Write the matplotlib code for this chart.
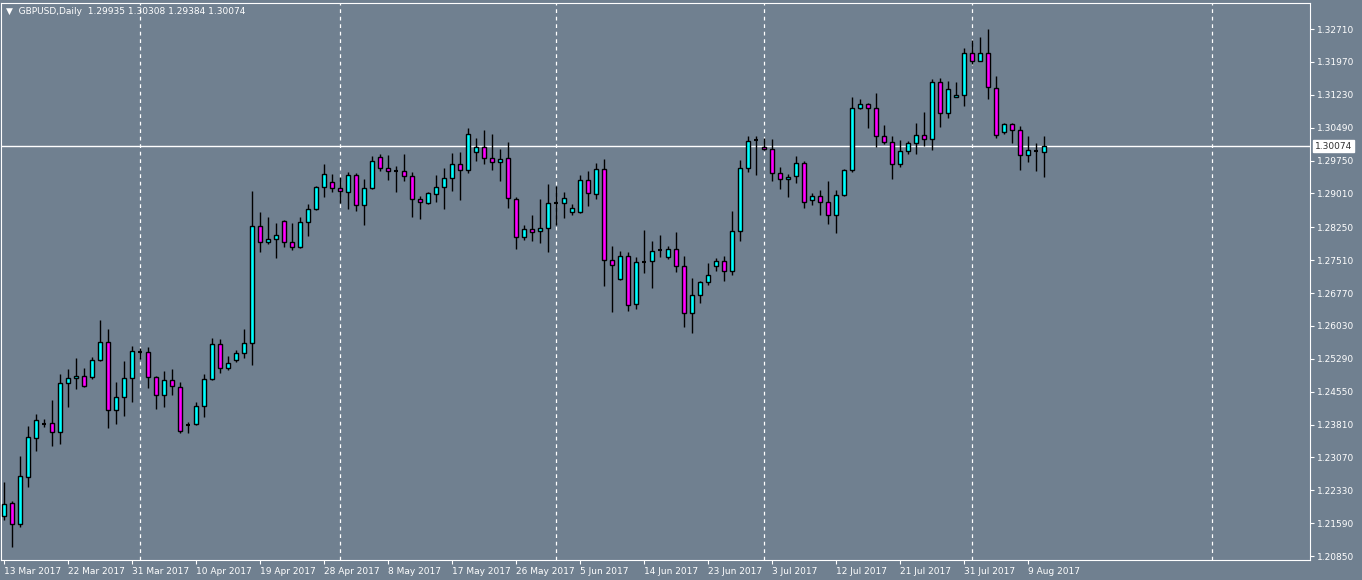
import numpy as np
import matplotlib
matplotlib.use('Agg')
import matplotlib.pyplot as plt

# daily GBPUSD candles, 13 Mar 2017 .. 10 Aug 2017 (MT4 incl. Sunday bars)
opens = [1.2175, 1.2205, 1.2157, 1.2263, 1.2351, 1.2382, 1.2385, 1.2364, 1.2475, 1.2486,
         1.2490, 1.2488, 1.2526, 1.2567, 1.2414, 1.2443, 1.2486, 1.2545, 1.2545, 1.2488,
         1.2448, 1.2481, 1.2466, 1.2380, 1.2382, 1.2423, 1.2484, 1.2562, 1.2508, 1.2526,
         1.2542, 1.2565, 1.2828, 1.2792, 1.2799, 1.2839, 1.2792, 1.2781, 1.2837, 1.2866,
         1.2916, 1.2927, 1.2913, 1.2904, 1.2943, 1.2875, 1.2913, 1.2983, 1.2958, 1.2952,
         1.2952, 1.2940, 1.2889, 1.2880, 1.2900, 1.2916, 1.2936, 1.2967, 1.2954, 1.2994,
         1.3006, 1.2981, 1.2972, 1.2981, 1.2889, 1.2802, 1.2820, 1.2817, 1.2823, 1.2880,
         1.2880, 1.2859, 1.2859, 1.2931, 1.2900, 1.2956, 1.2751, 1.2709, 1.2760, 1.2652,
         1.2747, 1.2749, 1.2774, 1.2758, 1.2776, 1.2738, 1.2632, 1.2673, 1.2702, 1.2738,
         1.2749, 1.2727, 1.2817, 1.2958, 1.3021, 1.3006, 1.3001, 1.2947, 1.2934, 1.2940,
         1.2970, 1.2886, 1.2895, 1.2882, 1.2853, 1.2898, 1.2954, 1.3093, 1.3102, 1.3093,
         1.3030, 1.3017, 1.2967, 1.2997, 1.3015, 1.3033, 1.3024, 1.3152, 1.3082, 1.3118,
         1.3123, 1.3217, 1.3199, 1.3217, 1.3138, 1.3039, 1.3057, 1.3044, 1.2988, 1.2997,
         1.29935]
highs = [1.2252, 1.2209, 1.2310, 1.2378, 1.2405, 1.2394, 1.2436, 1.2495, 1.2506, 1.2531,
         1.2508, 1.2533, 1.2616, 1.2596, 1.2477, 1.2524, 1.2558, 1.2554, 1.2556, 1.2490,
         1.2502, 1.2506, 1.2477, 1.2387, 1.2432, 1.2495, 1.2576, 1.2574, 1.2535, 1.2549,
         1.2596, 1.2907, 1.2859, 1.2848, 1.2835, 1.2841, 1.2835, 1.2848, 1.2877, 1.2918,
         1.2967, 1.2945, 1.2938, 1.2949, 1.2947, 1.2934, 1.2985, 1.2990, 1.2988, 1.2963,
         1.2990, 1.2949, 1.2895, 1.2904, 1.2943, 1.2958, 1.2992, 1.2994, 1.3048, 1.3026,
         1.3044, 1.3035, 1.3001, 1.3017, 1.2893, 1.2829, 1.2853, 1.2889, 1.2922, 1.2918,
         1.2904, 1.2877, 1.2943, 1.2952, 1.2970, 1.2979, 1.2783, 1.2772, 1.2769, 1.2758,
         1.2819, 1.2794, 1.2808, 1.2783, 1.2815, 1.2760, 1.2711, 1.2704, 1.2745, 1.2756,
         1.2760, 1.2862, 1.2976, 1.3030, 1.3030, 1.3026, 1.3024, 1.2961, 1.2945, 1.2985,
         1.2974, 1.2902, 1.2909, 1.2929, 1.2909, 1.2956, 1.3118, 1.3114, 1.3104, 1.3127,
         1.3055, 1.3030, 1.3021, 1.3019, 1.3060, 1.3084, 1.3159, 1.3161, 1.3154, 1.3152,
         1.3228, 1.3246, 1.3253, 1.3271, 1.3165, 1.3060, 1.3060, 1.3053, 1.3030, 1.3015,
         1.30308]
lows = [1.2166, 1.2106, 1.2150, 1.2241, 1.2322, 1.2376, 1.2333, 1.2337, 1.2421, 1.2461,
        1.2466, 1.2484, 1.2525, 1.2373, 1.2382, 1.2400, 1.2432, 1.2529, 1.2463, 1.2416,
        1.2421, 1.2448, 1.2362, 1.2362, 1.2380, 1.2398, 1.2481, 1.2497, 1.2504, 1.2522,
        1.2531, 1.2515, 1.2769, 1.2787, 1.2756, 1.2781, 1.2774, 1.2779, 1.2806, 1.2863,
        1.2893, 1.2904, 1.2880, 1.2866, 1.2862, 1.2830, 1.2911, 1.2952, 1.2931, 1.2904,
        1.2929, 1.2848, 1.2843, 1.2877, 1.2882, 1.2866, 1.2907, 1.2886, 1.2947, 1.2974,
        1.2967, 1.2954, 1.2929, 1.2868, 1.2776, 1.2797, 1.2794, 1.2790, 1.2769, 1.2829,
        1.2846, 1.2853, 1.2857, 1.2873, 1.2889, 1.2693, 1.2634, 1.2707, 1.2637, 1.2641,
        1.2722, 1.2688, 1.2758, 1.2754, 1.2724, 1.2600, 1.2587, 1.2655, 1.2695, 1.2727,
        1.2704, 1.2718, 1.2794, 1.2949, 1.2943, 1.2999, 1.2929, 1.2911, 1.2893, 1.2925,
        1.2868, 1.2875, 1.2853, 1.2832, 1.2812, 1.2896, 1.2949, 1.3092, 1.3048, 1.3006,
        1.3012, 1.2934, 1.2961, 1.2990, 1.2990, 1.3008, 1.2999, 1.3051, 1.3071, 1.3118,
        1.3098, 1.3192, 1.3199, 1.3114, 1.3026, 1.3035, 1.3015, 1.2954, 1.2972, 1.2952,
        1.29384]
closes = [1.2202, 1.2158, 1.2265, 1.2353, 1.2391, 1.2382, 1.2364, 1.2475, 1.2486, 1.2490,
          1.2468, 1.2526, 1.2567, 1.2414, 1.2443, 1.2486, 1.2547, 1.2545, 1.2488, 1.2448,
          1.2481, 1.2468, 1.2367, 1.2380, 1.2423, 1.2484, 1.2562, 1.2508, 1.2520, 1.2542,
          1.2565, 1.2828, 1.2792, 1.2799, 1.2808, 1.2792, 1.2781, 1.2837, 1.2866, 1.2916,
          1.2945, 1.2913, 1.2907, 1.2943, 1.2875, 1.2913, 1.2974, 1.2958, 1.2952, 1.2952,
          1.2940, 1.2889, 1.2882, 1.2902, 1.2916, 1.2936, 1.2967, 1.2954, 1.3035, 1.3006,
          1.2981, 1.2972, 1.2979, 1.2891, 1.2804, 1.2820, 1.2815, 1.2823, 1.2880, 1.2880,
          1.2891, 1.2868, 1.2931, 1.2902, 1.2956, 1.2751, 1.2740, 1.2760, 1.2650, 1.2747,
          1.2747, 1.2772, 1.2774, 1.2776, 1.2738, 1.2632, 1.2673, 1.2702, 1.2718, 1.2749,
          1.2727, 1.2817, 1.2958, 1.3019, 1.3021, 1.3001, 1.2947, 1.2934, 1.2938, 1.2970,
          1.2882, 1.2895, 1.2882, 1.2853, 1.2898, 1.2954, 1.3093, 1.3102, 1.3093, 1.3030,
          1.3017, 1.2967, 1.2997, 1.3015, 1.3033, 1.3024, 1.3152, 1.3082, 1.3136, 1.3123,
          1.3217, 1.3199, 1.3217, 1.3141, 1.3033, 1.3057, 1.3044, 1.2988, 1.2999, 1.2997,
          1.30074]

date_labels = ['13 Mar 2017', '22 Mar 2017', '31 Mar 2017', '10 Apr 2017', '19 Apr 2017',
               '28 Apr 2017', '8 May 2017', '17 May 2017', '26 May 2017', '5 Jun 2017',
               '14 Jun 2017', '23 Jun 2017', '3 Jul 2017', '12 Jul 2017', '21 Jul 2017',
               '31 Jul 2017', '9 Aug 2017']
price_ticks = [1.32710, 1.31970, 1.31230, 1.30490, 1.29750, 1.29010, 1.28250, 1.27510,
               1.26770, 1.26030, 1.25290, 1.24550, 1.23810, 1.23070, 1.22330, 1.21590, 1.20850]
month_starts = [17, 42, 69, 95, 121, 151]

bg = '#708090'
o = np.array(opens); h = np.array(highs); l = np.array(lows); c = np.array(closes)
x = np.arange(len(o))

fig = plt.figure(figsize=(13.62, 5.8), dpi=100, facecolor=bg)
ax = fig.add_axes([1/1362, 20/580, 1309/1362, 557/580], facecolor=bg)

for m in month_starts:
    ax.axvline(m, color='white', ls=(0, (3, 3)), lw=0.9)

ax.axhline(closes[-1], color='white', lw=1)

ax.vlines(x, l, h, color='black', lw=1, zorder=2)
up = c > o
down = c < o
doji = c == o
ax.bar(x[up], (c - o)[up], bottom=o[up], width=0.62, color='#00ffff',
       edgecolor='black', lw=1, zorder=3)
ax.bar(x[down], (o - c)[down], bottom=c[down], width=0.62, color='#ff00ff',
       edgecolor='black', lw=1, zorder=3)
ax.hlines(c[doji], x[doji] - 0.31, x[doji] + 0.31, color='black', lw=1.5, zorder=3)

ax.set_xlim(-0.375, 163.25)
ax.set_ylim(1.20763, 1.33295)

ax.yaxis.tick_right()
ax.set_yticks(price_ticks)
ax.set_yticklabels([f'{v:.5f}' for v in price_ticks])
ax.set_xticks(np.arange(0, 8 * len(date_labels), 8))
ax.set_xticklabels(date_labels, ha='left')
ax.tick_params(colors='white', labelsize=6.5, length=3, pad=2)
for s in ax.spines.values():
    s.set_color('white')

ax.text(1.004, closes[-1], f'{closes[-1]:.5f}', transform=ax.get_yaxis_transform(),
        va='center', ha='left', fontsize=6.5, color='#303030',
        bbox=dict(boxstyle='square,pad=0.2', fc='white', ec='white'))

ax.text(0.004, 0.993, '\u25bc  GBPUSD,Daily  1.29935 1.30308 1.29384 1.30074',
        transform=ax.transAxes, va='top', ha='left', fontsize=6.5, color='white')

fig.savefig('out.png', dpi=100, facecolor=bg)
